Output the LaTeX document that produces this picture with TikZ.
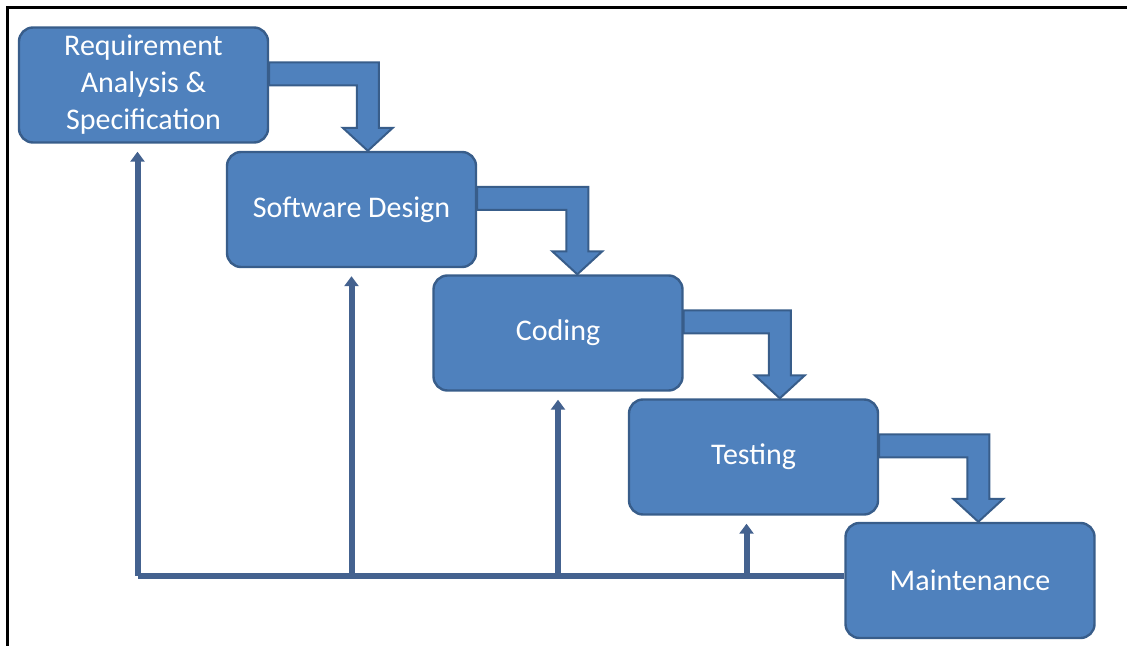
\documentclass[tikz,border=0pt]{standalone}
\usepackage{fontspec}
\setmainfont{Carlito}
\usetikzlibrary{shapes,arrows.meta,calc}

\definecolor{phasefill}{RGB}{79,129,189}
\definecolor{phaseline}{RGB}{56,93,138}
\definecolor{backline}{RGB}{68,98,143}

% block arrow that leaves #1 on the right and drops into the top of #2
% (#3 = position of the shaft, measured from the left side of #2)
\newcommand{\stepdown}[3]{%
  \draw[fall] let \p1=(#1.north east), \p2=(#2.north west) in
    (\x1,\y1-18pt) -- (\x2+#3+5.5pt,\y1-18pt) -- (\x2+#3+5.5pt,\y2+11.5pt)
    -- (\x2+#3+12.5pt,\y2+11.5pt) -- (\x2+#3,\y2) -- (\x2+#3-12.5pt,\y2+11.5pt)
    -- (\x2+#3-5.5pt,\y2+11.5pt) -- (\x2+#3-5.5pt,\y1-29.5pt) -- (\x1,\y1-29.5pt)
    -- cycle;
}

\begin{document}
\begin{tikzpicture}[%
    x=0.5pt, y=-0.5pt,          % one unit is one pixel of the page
    >={Triangle[width=7pt,length=5pt]},
    ]
% -------------------------------------------------
% Box and line styles
\tikzset{
  phase/.style={draw=phaseline, fill=phasefill, line width=1.2pt,
    rounded corners=7pt, minimum width=124.5pt, minimum height=57.5pt,
    align=center, text=white, font=\fontsize{15}{18.5}\selectfont},
  fall/.style={draw=phaseline, fill=phasefill, line width=1pt},
  back/.style={draw=backline, line width=3pt},
  up/.style={back, ->, shorten >=4pt},
  frame/.style={draw=black, line width=1.5pt}
}
\useasboundingbox (0,0) rectangle (1127,646);
\draw[frame] (7,646) -- (7,8) -- (1127,8);

% -------------------------------------------------
% The phases, top left to bottom right
\node [phase] (req) at (143.5,85) {Requirement\\Analysis \&\\Specification};
\node [phase] (design) at (351.5,209.5) {Software Design};
\node [phase] (coding) at (558,333) {Coding};
\node [phase] (testing) at (753.5,457) {Testing};
\node [phase] (maint) at (970,580.5) {Maintenance};

% Falling arrows from one phase to the next
\stepdown{req}{design}{71pt}		%Requirement,Software Design
\stepdown{design}{coding}{72.5pt}	%Software Design,Coding
\stepdown{coding}{testing}{76pt}	%Coding,Testing
\stepdown{testing}{maint}{67pt}		%Testing,Maintenance

% Feedback from maintenance back to every phase
\coordinate (base) at ([yshift=2.5pt]maint.west);
\draw[back] (base) -- ([xshift=-3pt]req.south |- base);
\draw[up] ([xshift=-3pt]req.south |- base) -- ([xshift=-3pt]req.south);		%Maintenance,Requirement
\draw[up] (design.south |- base) -- (design.south);		%Maintenance,Software Design
\draw[up] (coding.south |- base) -- (coding.south);		%Maintenance,Coding
\draw[up] ([xshift=-3.5pt]testing.south |- base) -- ([xshift=-3.5pt]testing.south);		%Maintenance,Testing

% -------------------------------------------------
\end{tikzpicture}
\end{document}
